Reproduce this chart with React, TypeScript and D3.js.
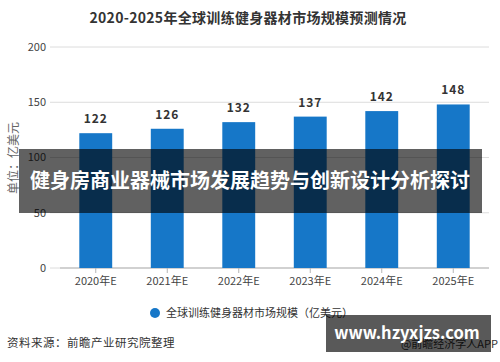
import * as d3 from 'd3'

const years = ['2020年E', '2021年E', '2022年E', '2023年E', '2024年E', '2025年E']
const marketSize = [122, 126, 132, 137, 142, 148]
const yTicks = [0, 50, 100, 150, 200]

const W = 500
const H = 362
const FONT = '"Noto Sans CJK SC", "Noto Sans", sans-serif'
const BLUE = '#1677c8'

export default function App() {
  const margin = { top: 47, right: 11, bottom: 94, left: 60 }
  const innerW = W - margin.left - margin.right
  const innerH = H - margin.top - margin.bottom

  const x = d3.scaleBand<string>().domain(years).range([0, innerW]).paddingInner(0.54).paddingOuter(0.27)
  const y = d3.scaleLinear().domain([0, 200]).range([innerH, 0])

  return (
    <div style={{ position: 'absolute', left: 0, top: 0 }}>
      <svg width={W} height={H} style={{ display: 'block', background: '#fff', fontFamily: FONT }}>
        {/* title */}
        <text x={248} y={23} textAnchor="middle" fontSize={14} fontWeight="bold" fill="#333" letterSpacing={0.3}>
          2020-2025年全球训练健身器材市场规模预测情况
        </text>

        <g transform={`translate(${margin.left},${margin.top})`}>
          {/* gridlines + y labels */}
          {yTicks.map(t => (
            <g key={t} transform={`translate(0,${y(t)})`}>
              <line x1={-10} x2={innerW} stroke="#dcdcdc" strokeWidth={1} />
              <text x={-14} dy="0.35em" textAnchor="end" fontSize={11} fill="#444">{t}</text>
            </g>
          ))}

          {/* x axis */}
          <line x1={0} x2={innerW} y1={innerH} y2={innerH} stroke="#b5b5b5" />
          {years.map(c => {
            const cx = (x(c) ?? 0) + x.bandwidth() / 2
            return (
              <g key={c} transform={`translate(${cx},${innerH})`}>
                <line y1={0} y2={5} stroke="#b5b5b5" />
                <text y={17} textAnchor="middle" fontSize={11} fill="#444">{c}</text>
              </g>
            )
          })}

          {/* bars + value labels */}
          {years.map((c, i) => (
            <g key={c}>
              <rect
                x={x(c)}
                y={y(marketSize[i])}
                width={x.bandwidth()}
                height={innerH - y(marketSize[i])}
                fill={BLUE}
              />
              <text
                x={(x(c) ?? 0) + x.bandwidth() / 2}
                y={y(marketSize[i]) - 10}
                textAnchor="middle"
                fontSize={12}
                fontWeight="bold"
                letterSpacing={1}
                fill="#333"
              >
                {marketSize[i]}
              </text>
            </g>
          ))}
        </g>

        {/* y axis title */}
        <text
          transform="translate(18,158) rotate(-90)"
          textAnchor="middle"
          fontSize={12}
          fill="#666"
        >
          单位：亿美元
        </text>

        {/* legend */}
        <circle cx={155} cy={313} r={5} fill={BLUE} />
        <text x={166} y={317} fontSize={11} fill="#333">全球训练健身器材市场规模（亿美元）</text>

        {/* source */}
        <text x={7} y={347} fontSize={11.5} fill="#333" letterSpacing={0.5}>资料来源：前瞻产业研究院整理</text>
        <text x={498} y={348} textAnchor="end" fontSize={11} fill="#333">@前瞻经济学人APP</text>

        {/* overlay banner */}
        <rect x={19} y={149} width={463} height={64} fill="rgba(0,0,0,0.62)" />
        <text x={250} y={188} textAnchor="middle" fontSize={20} fontWeight="bold" fill="#fff">
          健身房商业器械市场发展趋势与创新设计分析探讨
        </text>

        {/* site watermark */}
        <rect x={326} y={315} width={165} height={37} fill="rgba(0,0,0,0.65)" />
        <text x={407} y={339} textAnchor="middle" fontSize={16.5} fontWeight="bold" fill="#fff">
          www.hzyxjzs.com
        </text>
      </svg>
    </div>
  )
}
